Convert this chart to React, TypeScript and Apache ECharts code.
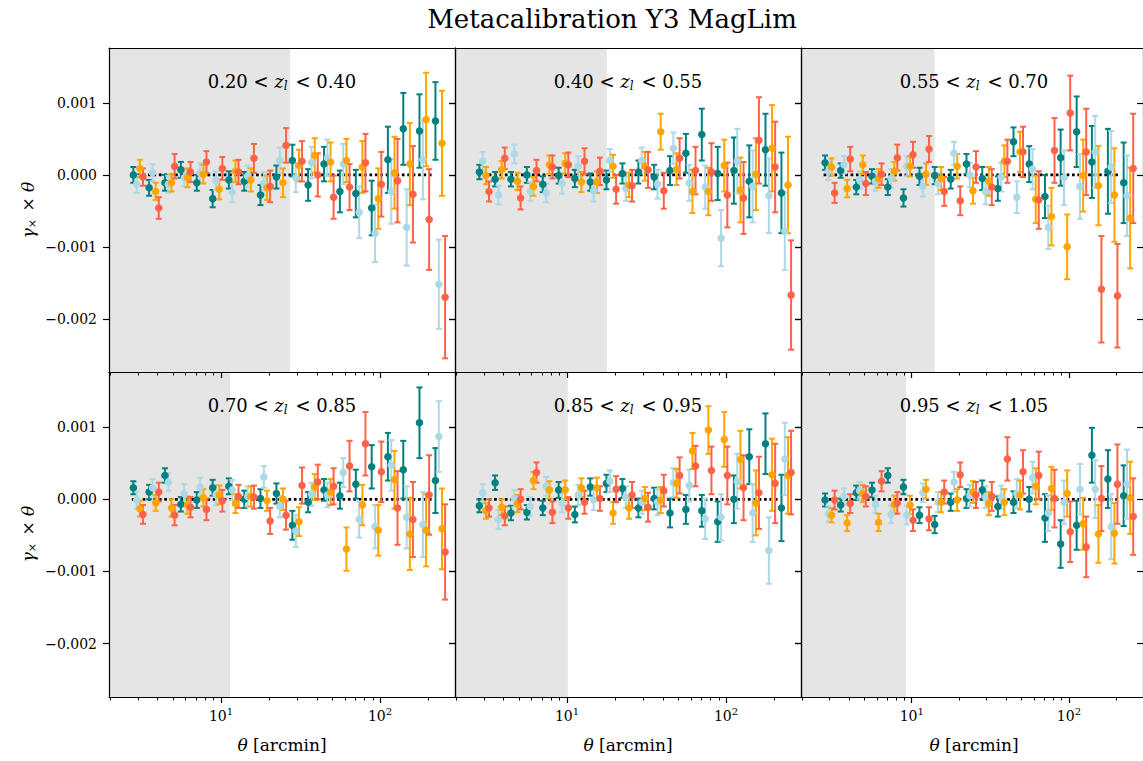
import React, { useEffect, useRef } from 'react';
import * as echarts from 'echarts';

// ---------------- data (gamma_x * theta in units of 1e-3) ----------------
const THETA = [2.81, 3.53, 4.44, 5.59, 7.04, 8.86, 11.2, 14.0, 17.7, 22.3, 28.1, 35.3, 44.4, 55.9, 70.4, 88.6, 112, 140, 177, 223];
const SOURCE_OFFSETS = [1, 1.05, 1.1, 1.15];
const SERIES_COLORS = ['#008080', '#add8e6', '#ffa500', '#ff6347'];
const SERIES_NAMES = ['bin 1', 'bin 2', 'bin 3', 'bin 4'];
const LENS_BINS = [['0.20', '0.40'], ['0.40', '0.55'], ['0.55', '0.70'], ['0.70', '0.85'], ['0.85', '0.95'], ['0.95', '1.05']];
const SCALE_CUTS = [27.2, 17.8, 14.0, 11.4, 10.1, 9.2];
const Y_TICKS = [-2, -1, 0, 1];
const X_MAJOR = [10, 100];
const X_MINOR = [2, 3, 4, 5, 6, 7, 8, 9, 20, 30, 40, 50, 60, 70, 80, 90, 200];
const ZERO_LINE = [[2.75, 0], [212, 0]];

const P1_TEAL = [0, -0.18, -0.11, 0.07, -0.11, -0.33, -0.07, -0.09, -0.28, -0.03, 0.2, -0.14, 0.15, -0.23, -0.26, -0.46, 0.21, 0.64, 0.61, 0.75];
const P1_LBLUE = [-0.13, 0.03, -0.13, -0.04, 0.03, -0.08, -0.24, -0.02, -0.12, 0.2, -0.04, 0.17, 0.24, 0.15, -0.52, -0.81, -0.23, -0.73, 0.21, -1.52];
const P1_ORANGE = [0.09, -0.23, -0.11, -0.04, 0.01, -0.2, 0.05, -0.07, -0.18, -0.11, 0.13, 0.27, 0.18, 0.2, 0.11, -0.33, 0.03, 0.15, 0.77, 0.44];
const P1_TOMATO = [-0.03, -0.46, 0.12, 0.04, 0.18, 0.09, 0.04, 0.23, -0.16, 0.41, 0.19, 0, -0.31, -0.17, 0.17, -0.13, -0.08, -0.27, -0.62, -1.7];
const P1_TEAL_ERR = [0.11, 0.11, 0.11, 0.11, 0.11, 0.12, 0.12, 0.13, 0.14, 0.16, 0.22, 0.22, 0.24, 0.29, 0.33, 0.38, 0.46, 0.5, 0.51, 0.54];
const P1_LBLUE_ERR = [0.12, 0.12, 0.12, 0.12, 0.13, 0.13, 0.14, 0.15, 0.16, 0.18, 0.2, 0.22, 0.25, 0.28, 0.36, 0.4, 0.45, 0.53, 0.55, 0.62];
const P1_ORANGE_ERR = [0.12, 0.12, 0.12, 0.13, 0.13, 0.14, 0.15, 0.16, 0.17, 0.2, 0.22, 0.24, 0.27, 0.3, 0.36, 0.42, 0.5, 0.57, 0.65, 0.73];
const P1_TOMATO_ERR = [0.12, 0.15, 0.17, 0.14, 0.15, 0.16, 0.17, 0.2, 0.22, 0.24, 0.28, 0.3, 0.3, 0.32, 0.4, 0.45, 0.58, 0.67, 0.7, 0.85];

const P2_TEAL = [0.04, -0.06, -0.06, 0, -0.13, -0.01, -0.05, -0.1, -0.07, 0.02, 0.04, -0.03, 0.06, 0.3, 0.56, 0.02, 0.06, -0.09, 0.35, -0.25];
const P2_LBLUE = [0.19, -0.28, 0.29, -0.23, -0.25, -0.12, 0.12, -0.22, 0.2, -0.19, 0.2, -0.13, 0.37, -0.11, -0.17, -0.88, 0.19, -0.16, -0.29, -0.78];
const P2_ORANGE = [-0.01, 0.07, -0.09, -0.16, 0.14, 0.16, -0.1, -0.1, 0.12, -0.14, 0.12, 0.6, 0.08, -0.23, -0.23, 0.13, -0.21, 0.01, 0.37, -0.14];
const P2_TOMATO = [-0.23, 0.23, -0.32, 0.06, 0.11, 0.14, 0.19, 0.05, -0.2, -0.15, 0.07, -0.22, 0.23, 0.06, 0.04, -0.28, -0.32, 0.48, 0.11, -1.67];
const P2_TEAL_ERR = [0.1, 0.1, 0.1, 0.11, 0.11, 0.11, 0.12, 0.12, 0.13, 0.14, 0.16, 0.17, 0.2, 0.27, 0.36, 0.37, 0.46, 0.5, 0.5, 0.56];
const P2_LBLUE_ERR = [0.13, 0.13, 0.13, 0.13, 0.13, 0.14, 0.14, 0.15, 0.16, 0.17, 0.18, 0.2, 0.22, 0.25, 0.3, 0.39, 0.45, 0.5, 0.52, 0.54];
const P2_ORANGE_ERR = [0.12, 0.12, 0.12, 0.13, 0.13, 0.14, 0.14, 0.15, 0.16, 0.17, 0.2, 0.25, 0.22, 0.3, 0.33, 0.36, 0.45, 0.5, 0.6, 0.67];
const P2_TOMATO_ERR = [0.14, 0.15, 0.16, 0.15, 0.16, 0.17, 0.18, 0.19, 0.2, 0.22, 0.25, 0.25, 0.28, 0.33, 0.4, 0.45, 0.5, 0.6, 0.63, 0.76];

const P3_TEAL = [0.17, 0.06, -0.17, -0.02, -0.17, -0.32, -0.02, -0.01, -0.06, 0.15, -0.05, -0.19, 0.46, 0.15, -0.3, 0.24, 0.6, 0.18, 0.05, -0.11];
const P3_LBLUE = [0.05, 0.14, -0.07, -0.09, -0.05, 0.12, -0.16, -0.12, 0.3, 0.0, -0.23, -0.03, -0.31, 0.08, -0.73, -0.04, -0.16, 0.32, 0.11, -0.29];
const P3_ORANGE = [0.11, -0.19, 0.14, -0.05, 0.05, 0.12, 0.01, -0.05, 0.12, -0.22, -0.09, 0.19, 0.32, -0.34, -0.58, -1.0, -0.01, -0.15, -0.28, -0.6];
const P3_TOMATO = [-0.25, 0.22, -0.12, 0.01, 0.24, 0.28, 0.36, -0.23, -0.36, 0.11, -0.17, 0.19, 0.32, -0.35, 0.34, 0.86, 0.32, -1.59, -1.68, 0.09];
const P3_TEAL_ERR = [0.1, 0.1, 0.1, 0.1, 0.11, 0.12, 0.12, 0.12, 0.13, 0.14, 0.16, 0.17, 0.2, 0.25, 0.3, 0.39, 0.49, 0.5, 0.59, 0.56];
const P3_LBLUE_ERR = [0.12, 0.12, 0.12, 0.13, 0.13, 0.14, 0.14, 0.15, 0.16, 0.17, 0.18, 0.2, 0.22, 0.28, 0.3, 0.38, 0.45, 0.5, 0.5, 0.56];
const P3_ORANGE_ERR = [0.12, 0.12, 0.13, 0.13, 0.13, 0.14, 0.15, 0.16, 0.17, 0.18, 0.2, 0.22, 0.28, 0.33, 0.4, 0.45, 0.5, 0.55, 0.65, 0.7];
const P3_TOMATO_ERR = [0.14, 0.17, 0.16, 0.15, 0.18, 0.18, 0.18, 0.2, 0.2, 0.22, 0.25, 0.3, 0.35, 0.4, 0.45, 0.52, 0.6, 0.74, 0.72, 0.76];

const P4_TEAL = [0.16, 0.1, 0.33, -0.07, -0.01, 0.16, 0.18, 0, 0.01, 0.08, -0.36, -0.04, 0.13, 0.05, 0.21, 0.45, 0.59, 0.41, 1.06, 0.26];
const P4_LBLUE = [-0.01, 0.16, 0.24, 0.08, 0.17, 0.06, 0.13, 0.04, 0.31, -0.1, -0.44, 0.07, 0.06, 0.37, -0.28, -0.38, 0.47, -0.25, -0.35, 0.87];
const P4_ORANGE = [-0.13, -0.05, -0.12, -0.08, 0.02, 0.06, -0.06, 0.04, -0.02, 0, -0.31, 0.17, 0.1, -0.69, -0.08, -0.43, 0.27, -0.48, -0.43, -0.41];
const P4_TOMATO = [-0.21, 0.1, -0.22, -0.11, -0.14, -0.02, 0.04, 0.03, -0.3, -0.22, 0.19, 0.24, 0.18, 0.46, 0.77, 0.38, -0.12, -0.28, 0.06, -0.73];
const P4_TEAL_ERR = [0.09, 0.1, 0.1, 0.1, 0.11, 0.11, 0.11, 0.12, 0.13, 0.14, 0.2, 0.14, 0.15, 0.18, 0.2, 0.3, 0.33, 0.4, 0.49, 0.45];
const P4_LBLUE_ERR = [0.12, 0.12, 0.12, 0.13, 0.13, 0.14, 0.14, 0.14, 0.15, 0.15, 0.22, 0.16, 0.17, 0.2, 0.25, 0.3, 0.35, 0.43, 0.45, 0.49];
const P4_ORANGE_ERR = [0.11, 0.11, 0.12, 0.12, 0.12, 0.13, 0.13, 0.14, 0.14, 0.15, 0.2, 0.18, 0.18, 0.3, 0.28, 0.35, 0.4, 0.5, 0.5, 0.56];
const P4_TOMATO_ERR = [0.13, 0.13, 0.14, 0.14, 0.15, 0.15, 0.16, 0.16, 0.18, 0.2, 0.25, 0.24, 0.25, 0.35, 0.44, 0.42, 0.51, 0.52, 0.55, 0.66];

const P5_TEAL = [-0.09, 0.23, -0.19, -0.18, -0.12, 0.13, -0.21, 0.17, 0.22, 0.15, -0.12, 0.01, -0.19, -0.14, -0.16, -0.31, 0, 0.59, 0.77, -0.12];
const P5_LBLUE = [0.09, -0.28, 0.01, -0.1, 0.18, -0.05, 0.06, -0.01, 0.25, 0.03, -0.04, -0.04, 0.23, 0.19, -0.27, -0.25, 0.25, -0.19, -0.71, 0.56];
const P5_ORANGE = [-0.16, -0.11, -0.06, 0.26, 0.13, 0.13, 0.16, 0.16, -0.19, -0.12, 0.01, -0.01, 0.22, 0.67, 0.96, 0.83, 0.55, -0.05, 0.34, 0.33];
const P5_TOMATO = [-0.12, -0.23, 0, 0.37, -0.18, -0.12, -0.04, 0.01, 0.14, 0.06, -0.11, 0.12, 0.33, 0.46, 0.4, 0.33, 0.16, 0.09, 0.22, 0.37];
const P5_TEAL_ERR = [0.09, 0.1, 0.1, 0.1, 0.1, 0.11, 0.11, 0.12, 0.12, 0.13, 0.13, 0.15, 0.2, 0.2, 0.22, 0.28, 0.33, 0.38, 0.42, 0.46];
const P5_LBLUE_ERR = [0.12, 0.13, 0.12, 0.13, 0.13, 0.13, 0.14, 0.14, 0.15, 0.15, 0.16, 0.18, 0.2, 0.22, 0.28, 0.32, 0.38, 0.4, 0.46, 0.5];
const P5_ORANGE_ERR = [0.11, 0.11, 0.12, 0.12, 0.12, 0.13, 0.13, 0.14, 0.15, 0.15, 0.16, 0.18, 0.2, 0.25, 0.33, 0.38, 0.4, 0.45, 0.5, 0.53];
const P5_TOMATO_ERR = [0.12, 0.13, 0.14, 0.14, 0.15, 0.15, 0.16, 0.17, 0.18, 0.18, 0.2, 0.22, 0.25, 0.28, 0.33, 0.4, 0.45, 0.5, 0.55, 0.58];

const P6_TEAL = [-0.01, -0.08, 0.09, 0.13, 0.33, 0.17, -0.22, -0.35, -0.04, 0.01, 0.13, -0.1, -0.04, 0, -0.26, -0.62, -0.36, 0.61, 0.28, 0.05];
const P6_LBLUE = [-0.2, 0.04, 0.12, -0.07, -0.21, -0.22, 0.09, -0.04, 0.24, 0.05, 0.03, 0.03, 0.08, 0.3, -0.19, -0.04, 0.14, 0.14, -0.38, 0.21];
const P6_ORANGE = [-0.22, -0.33, 0.08, -0.32, -0.07, -0.08, 0.14, -0.04, -0.01, 0.1, -0.06, -0.04, 0.06, 0.18, 0.15, 0.08, -0.34, -0.48, -0.47, 0.02];
const P6_TOMATO = [-0.01, -0.06, 0.04, 0.25, -0.05, -0.29, -0.27, 0.1, 0.34, 0.06, 0.04, 0.56, 0.38, 0.33, 0.01, -0.45, -0.66, 0.01, 0.21, -0.24];
const P6_TEAL_ERR = [0.09, 0.09, 0.1, 0.1, 0.1, 0.1, 0.11, 0.12, 0.12, 0.13, 0.13, 0.14, 0.15, 0.17, 0.33, 0.33, 0.34, 0.38, 0.4, 0.42];
const P6_LBLUE_ERR = [0.11, 0.11, 0.12, 0.12, 0.12, 0.13, 0.13, 0.14, 0.14, 0.15, 0.15, 0.16, 0.2, 0.22, 0.25, 0.3, 0.35, 0.4, 0.45, 0.48];
const P6_ORANGE_ERR = [0.1, 0.11, 0.12, 0.12, 0.12, 0.13, 0.13, 0.14, 0.15, 0.15, 0.16, 0.18, 0.2, 0.25, 0.3, 0.32, 0.36, 0.4, 0.42, 0.5];
const P6_TOMATO_ERR = [0.13, 0.13, 0.14, 0.14, 0.15, 0.15, 0.16, 0.16, 0.17, 0.18, 0.2, 0.3, 0.3, 0.33, 0.4, 0.42, 0.42, 0.45, 0.55, 0.53];

const PANEL_VALUES = [
  [P1_TEAL, P1_LBLUE, P1_ORANGE, P1_TOMATO],
  [P2_TEAL, P2_LBLUE, P2_ORANGE, P2_TOMATO],
  [P3_TEAL, P3_LBLUE, P3_ORANGE, P3_TOMATO],
  [P4_TEAL, P4_LBLUE, P4_ORANGE, P4_TOMATO],
  [P5_TEAL, P5_LBLUE, P5_ORANGE, P5_TOMATO],
  [P6_TEAL, P6_LBLUE, P6_ORANGE, P6_TOMATO],
];
const PANEL_ERRORS = [
  [P1_TEAL_ERR, P1_LBLUE_ERR, P1_ORANGE_ERR, P1_TOMATO_ERR],
  [P2_TEAL_ERR, P2_LBLUE_ERR, P2_ORANGE_ERR, P2_TOMATO_ERR],
  [P3_TEAL_ERR, P3_LBLUE_ERR, P3_ORANGE_ERR, P3_TOMATO_ERR],
  [P4_TEAL_ERR, P4_LBLUE_ERR, P4_ORANGE_ERR, P4_TOMATO_ERR],
  [P5_TEAL_ERR, P5_LBLUE_ERR, P5_ORANGE_ERR, P5_TOMATO_ERR],
  [P6_TEAL_ERR, P6_LBLUE_ERR, P6_ORANGE_ERR, P6_TOMATO_ERR],
];

// ---------------- layout ----------------
const W = 1143;
const H = 761;
const FONT = "'DejaVu Serif', serif";
const GRID_LEFTS = [109, 455, 801];
const GRID_TOPS = [48, 372];
const GRID_W = 346;
const GRID_HS = [324, 325];
const X_MIN = 1.975;
const X_MAX = 296;
const Y_MIN = -2.74;
const Y_MAX = 1.764;

function buildOption() {
  const grid: any[] = [];
  const xAxis: any[] = [];
  const yAxis: any[] = [];
  const series: any[] = [];
  const graphic: any[] = [];

  const tickStyle = { color: '#000', width: 1.2 };

  for (let p = 0; p < 6; p++) {
    const row = Math.floor(p / 3);
    const col = p % 3;
    grid.push({ left: GRID_LEFTS[col], top: GRID_TOPS[row], width: GRID_W, height: GRID_HS[row], show: false });

    const xBase = { type: 'log', logBase: 10, gridIndex: p, min: X_MIN, max: X_MAX, splitLine: { show: false }, z: 10 };
    xAxis.push({
      ...xBase,
      position: 'bottom',
      axisLine: { show: true, onZero: false, lineStyle: tickStyle },
      axisTick: { show: true, length: 6, lineStyle: tickStyle, customValues: X_MAJOR },
      axisLabel: {
        show: row === 1,
        customValues: X_MAJOR,
        margin: 9,
        formatter: (v: number) => `{b|10}{s|${Math.round(Math.log10(v))}}`,
        rich: {
          b: { fontFamily: FONT, fontSize: 14, color: '#000' },
          s: { fontFamily: FONT, fontSize: 10, color: '#000', padding: [0, 0, 9, 0] },
        },
      },
    });
    xAxis.push({
      ...xBase,
      position: 'bottom',
      axisLine: { show: false, onZero: false },
      axisTick: { show: true, length: 3.5, lineStyle: { color: '#000', width: 1 }, customValues: X_MINOR },
      axisLabel: { show: false },
    });
    xAxis.push({
      ...xBase,
      position: 'top',
      axisLine: { show: true, onZero: false, lineStyle: tickStyle },
      axisTick: { show: false },
      axisLabel: { show: false },
    });

    const yBase = { type: 'value', gridIndex: p, min: Y_MIN, max: Y_MAX, splitLine: { show: false }, z: 10 };
    yAxis.push({
      ...yBase,
      position: 'left',
      axisLine: { show: true, onZero: false, lineStyle: tickStyle },
      axisTick: { show: true, length: 6, lineStyle: tickStyle, customValues: Y_TICKS },
      axisLabel: {
        show: col === 0,
        customValues: Y_TICKS,
        margin: 12,
        fontFamily: FONT,
        fontSize: 14,
        color: '#000',
        formatter: (v: number) => (v < 0 ? '\u2212' : '') + (Math.abs(v) / 1000).toFixed(3),
      },
    });
    yAxis.push({
      ...yBase,
      position: 'right',
      axisLine: { show: true, onZero: false, lineStyle: tickStyle },
      axisTick: { show: true, inside: true, length: 6, lineStyle: tickStyle, customValues: Y_TICKS },
      axisLabel: { show: false },
    });

    const xi = p * 3;
    const yi = p * 2;

    series.push({
      type: 'line',
      xAxisIndex: xi,
      yAxisIndex: yi,
      data: [],
      silent: true,
      z: 0,
      markArea: {
        silent: true,
        itemStyle: { color: '#e5e5e5' },
        data: [[{ xAxis: X_MIN }, { xAxis: SCALE_CUTS[p] }]],
      },
    });
    series.push({
      type: 'line',
      xAxisIndex: xi,
      yAxisIndex: yi,
      data: ZERO_LINE,
      symbol: 'none',
      silent: true,
      z: 1,
      lineStyle: { color: '#000', width: 2.7, type: [2.7, 2.7], cap: 'butt' },
    });

    for (let s = 0; s < 4; s++) {
      const color = SERIES_COLORS[s];
      const vals = PANEL_VALUES[p][s];
      const errs = PANEL_ERRORS[p][s];
      const rows = THETA.map((t, i) => [t * SOURCE_OFFSETS[s], vals[i], errs[i]]);
      series.push({
        type: 'custom',
        name: SERIES_NAMES[s],
        xAxisIndex: xi,
        yAxisIndex: yi,
        data: rows,
        encode: { x: 0, y: 1 },
        clip: true,
        silent: true,
        z: 2,
        renderItem: (_params: any, api: any) => {
          const x = api.value(0);
          const y = api.value(1);
          const e = api.value(2);
          const top = api.coord([x, y + e]);
          const bot = api.coord([x, y - e]);
          const hw = 3;
          const st = { stroke: color, lineWidth: 2 };
          return {
            type: 'group',
            children: [
              { type: 'line', shape: { x1: top[0], y1: top[1], x2: bot[0], y2: bot[1] }, style: st },
              { type: 'line', shape: { x1: top[0] - hw, y1: top[1], x2: top[0] + hw, y2: top[1] }, style: st },
              { type: 'line', shape: { x1: bot[0] - hw, y1: bot[1], x2: bot[0] + hw, y2: bot[1] }, style: st },
            ],
          };
        },
      });
      series.push({
        type: 'scatter',
        name: SERIES_NAMES[s],
        xAxisIndex: xi,
        yAxisIndex: yi,
        data: rows.map((r) => [r[0], r[1]]),
        symbol: 'circle',
        symbolSize: 7.5,
        itemStyle: { color, opacity: 1 },
        clip: true,
        silent: true,
        z: 2,
      });
    }

    const [lo, hi] = LENS_BINS[p];
    graphic.push({
      type: 'text',
      x: GRID_LEFTS[col] + 173,
      y: GRID_TOPS[row] + 33,
      z: 20,
      style: {
        text: `${lo} < {z|z}{s|l} < ${hi}`,
        fontFamily: FONT,
        fontSize: 18,
        fill: '#000',
        align: 'center',
        verticalAlign: 'middle',
        rich: {
          z: { fontFamily: FONT, fontSize: 18, fontStyle: 'italic', fill: '#000' },
          s: { fontFamily: FONT, fontSize: 12, fontStyle: 'italic', fill: '#000', padding: [10, 2, 0, 0] },
        },
      },
    });
  }

  graphic.push({
    type: 'text',
    x: 612,
    y: 19,
    style: { text: 'Metacalibration Y3 MagLim', fontFamily: FONT, fontSize: 26, fill: '#000', align: 'center', verticalAlign: 'middle' },
  });
  for (let c = 0; c < 3; c++) {
    graphic.push({
      type: 'text',
      x: GRID_LEFTS[c] + 173,
      y: 745,
      style: {
        text: '{g|θ} [arcmin]',
        fontFamily: FONT,
        fontSize: 17,
        fill: '#000',
        align: 'center',
        verticalAlign: 'middle',
        rich: { g: { fontFamily: FONT, fontSize: 17, fontStyle: 'italic', fill: '#000' } },
      },
    });
  }
  for (let r = 0; r < 2; r++) {
    graphic.push({
      type: 'text',
      x: 28,
      y: GRID_TOPS[r] + 162,
      rotation: Math.PI / 2,
      style: {
        text: '{g|γ}{s|×} × {g|θ}',
        fontFamily: FONT,
        fontSize: 17,
        fill: '#000',
        align: 'center',
        verticalAlign: 'middle',
        rich: {
          g: { fontFamily: FONT, fontSize: 17, fontStyle: 'italic', fill: '#000' },
          s: { fontFamily: FONT, fontSize: 11, fill: '#000', padding: [9, 2, 0, 0] },
        },
      },
    });
  }

  return {
    animation: false,
    backgroundColor: '#ffffff',
    grid,
    xAxis,
    yAxis,
    series,
    graphic,
  };
}

export default function App() {
  const ref = useRef<HTMLDivElement>(null);
  useEffect(() => {
    if (!ref.current) return;
    const chart = echarts.init(ref.current, undefined, { renderer: 'svg', width: W, height: H });
    chart.setOption(buildOption() as any);
    return () => chart.dispose();
  }, []);
  return (
    <div
      ref={ref}
      style={{ position: 'fixed', left: 0, top: 0, width: W, height: H, background: '#fff', overflow: 'hidden' }}
    />
  );
}
